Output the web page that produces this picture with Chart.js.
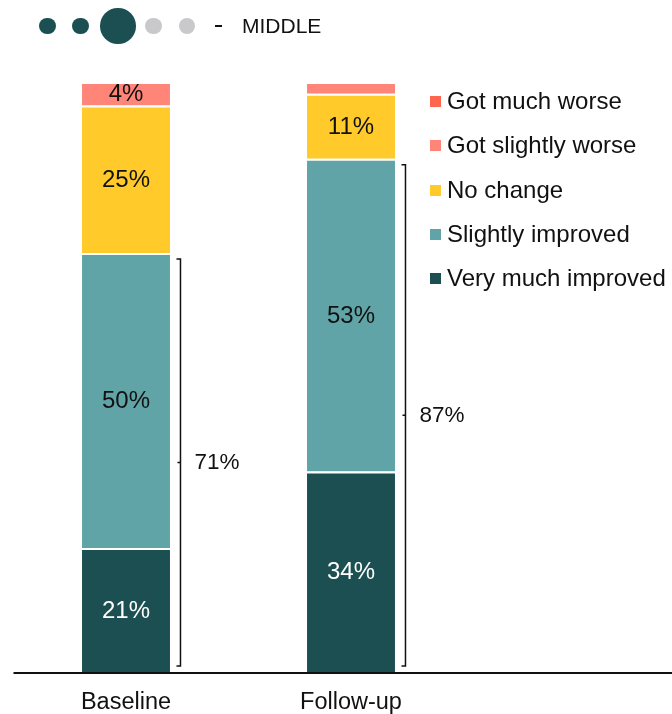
<!DOCTYPE html>
<html>
<head>
<meta charset="utf-8">
<script src="https://cdn.jsdelivr.net/npm/chart.js@4.4.1/dist/chart.umd.min.js"></script>
<style>
  html, body { margin: 0; padding: 0; background: #fff; overflow: hidden; }
  body { font-family: "Liberation Sans", Arial, sans-serif; color: #111; }
  #wrap { position: relative; width: 672px; height: 714px; }
  #chart { position: absolute; left: 0; top: 0; }
  .dot { position: absolute; border-radius: 50%; }
  #dash { position: absolute; left: 215px; top: 25px; width: 7px; height: 1.5px; background: #111; }
  #level { position: absolute; left: 242px; top: 13px; font-size: 21px; line-height: 26px; }
  #legend { position: absolute; left: 430px; top: 0; }
  .item { position: absolute; left: 0; white-space: nowrap; font-size: 24px; line-height: 28px; }
  .item span.box { position: absolute; left: 0; top: 9px; width: 11px; height: 11px; }
  .item span.txt { position: absolute; left: 17px; top: 0; }
</style>
</head>
<body>
<div id="wrap">
  <canvas id="chart" width="672" height="714"></canvas>
  <div id="header"></div>
  <div id="dash"></div>
  <div id="level">MIDDLE</div>
  <div id="legend"></div>
</div>
<script>
const categories = ["Baseline", "Follow-up"];
const seriesNames = ["Very much improved", "Slightly improved", "No change", "Got slightly worse", "Got much worse"];
const veryMuchImproved = [21, 34];
const slightlyImproved = [50, 53];
const noChange = [25, 11];
const gotSlightlyWorse = [4, 2];
const gotMuchWorse = [0, 0];
const improvedTotals = [71, 87];

const colors = ["#1b4f52", "#60a4a8", "#ffca2a", "#ff8578", "#ff6650"];
const seriesValues = [veryMuchImproved, slightlyImproved, noChange, gotSlightlyWorse, gotMuchWorse];
const font = '"Liberation Sans", Arial, sans-serif';

// level dots in the header
const dots = [
  { x: 47.5, r: 8.3, c: "#1b4f52" },
  { x: 80.7, r: 8.3, c: "#1b4f52" },
  { x: 118, r: 17.7, c: "#1b4f52" },
  { x: 153.7, r: 8.3, c: "#c9c9cb" },
  { x: 187, r: 8.3, c: "#c9c9cb" }
];
const header = document.getElementById("header");
dots.forEach(d => {
  const el = document.createElement("div");
  el.className = "dot";
  el.style.left = (d.x - d.r) + "px";
  el.style.top = (26 - d.r) + "px";
  el.style.width = el.style.height = (2 * d.r) + "px";
  el.style.background = d.c;
  header.appendChild(el);
});

// legend, top row is the last series
const legend = document.getElementById("legend");
for (let i = seriesNames.length - 1, row = 0; i >= 0; i--, row++) {
  const item = document.createElement("div");
  item.className = "item";
  item.style.top = (87 + row * 44.3) + "px";
  item.innerHTML = '<span class="box" style="background:' + colors[i] + '"></span><span class="txt">' + seriesNames[i] + '</span>';
  legend.appendChild(item);
}

const segmentLabels = {
  id: "segmentLabels",
  afterDatasetsDraw(chart) {
    const ctx = chart.ctx;
    ctx.save();
    ctx.font = "24px " + font;
    ctx.textAlign = "center";
    ctx.textBaseline = "middle";
    chart.data.datasets.forEach((ds, di) => {
      chart.getDatasetMeta(di).data.forEach((bar, i) => {
        const v = ds.data[i];
        if (v < 3) return;
        ctx.fillStyle = di === 0 ? "#fff" : "#111";
        ctx.fillText(v + "%", bar.x, (bar.y + bar.base) / 2 + 1);
      });
    });
    ctx.restore();
  }
};

const brackets = {
  id: "brackets",
  afterDraw(chart) {
    const ctx = chart.ctx;
    const y = chart.scales.y;
    const area = chart.chartArea;
    ctx.save();
    // baseline rule across the whole width
    ctx.strokeStyle = "#111";
    ctx.lineWidth = 2;
    ctx.beginPath();
    ctx.moveTo(area.left, area.bottom + 1);
    ctx.lineTo(chart.width, area.bottom + 1);
    ctx.stroke();

    ctx.lineWidth = 1.5;
    ctx.font = "22.5px " + font;
    ctx.fillStyle = "#111";
    ctx.textBaseline = "middle";
    chart.getDatasetMeta(0).data.forEach((bar, i) => {
      const x = bar.x + bar.width / 2 + 10.5;
      const top = y.getPixelForValue(improvedTotals[i]) + 6;
      const bottom = y.getPixelForValue(0) - 6;
      const mid = (top + bottom) / 2;
      ctx.beginPath();
      ctx.moveTo(x - 4, top);
      ctx.lineTo(x, top);
      ctx.lineTo(x, bottom);
      ctx.lineTo(x - 4, bottom);
      ctx.moveTo(x - 3, mid);
      ctx.lineTo(x, mid);
      ctx.stroke();
      ctx.fillText(improvedTotals[i] + "%", x + 14, mid);
    });
    ctx.restore();
  }
};

new Chart(document.getElementById("chart"), {
  type: "bar",
  data: {
    labels: categories,
    datasets: seriesNames.map((name, i) => ({
      label: name,
      data: seriesValues[i],
      backgroundColor: colors[i],
      borderColor: "#fff",
      borderWidth: { top: 2, left: 0, right: 0, bottom: 0 },
      borderSkipped: false,
      barPercentage: 0.391,
      categoryPercentage: 1
    }))
  },
  options: {
    responsive: false,
    animation: false,
    layout: { padding: { left: 13.5, right: 208.5, top: 82, bottom: 0 } },
    plugins: { legend: { display: false }, tooltip: { enabled: false } },
    scales: {
      x: {
        stacked: true,
        grid: { display: false },
        border: { display: false },
        ticks: { color: "#111", font: { family: font, size: 23.5, lineHeight: 1 }, padding: 11 },
        afterFit(scale) { scale.height = 42; }
      },
      y: { stacked: true, min: 0, max: 100, display: false }
    }
  },
  plugins: [segmentLabels, brackets]
});
</script>
</body>
</html>
